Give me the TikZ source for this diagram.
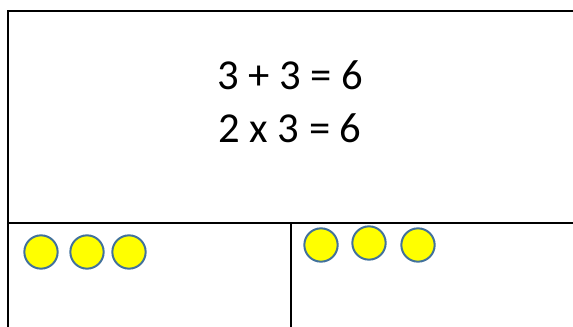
\documentclass[tikz,border=0pt]{standalone}
\usepackage{fontspec}
\setmainfont{Carlito}
\usepackage{tikz}

\definecolor{counter}{RGB}{255,255,0}
\definecolor{counteredge}{RGB}{65,113,156}

\tikzset{
  box/.style={line width=2.1pt, line cap=rect},
  counter/.style={circle, fill=counter, draw=counteredge, line width=1.5pt,
                  minimum size=25pt, inner sep=0pt},
  sum/.style={font=\fontsize{32}{38}\selectfont, inner sep=0pt}
}

\begin{document}
\begin{tikzpicture}[x=0.75pt, y=-0.75pt]
        \useasboundingbox (0,0) rectangle (573,327);
        % Caixa: vora de dalt, esquerra, separacio i divisio
        \draw[box] (573,11) -- (8,11) -- (8,340);
        \draw[box] (8,223) -- (580,223);
        \draw[box] (291,223) -- (291,340);
        % Operacions
        \node[sum] (add) at (290,75) {3 + 3 = 6};
        \node[sum] (mult) at (290,128) {2 x 3 = 6};
        % Fitxes
        \node[counter] (l1) at (41,252) {};
        \node[counter] (l2) at (87,252) {};
        \node[counter] (l3) at (129,252) {};
        \node[counter] (r1) at (321,245) {};
        \node[counter] (r2) at (369,243) {};
        \node[counter] (r3) at (418,245) {};
    \end{tikzpicture}
\end{document}
